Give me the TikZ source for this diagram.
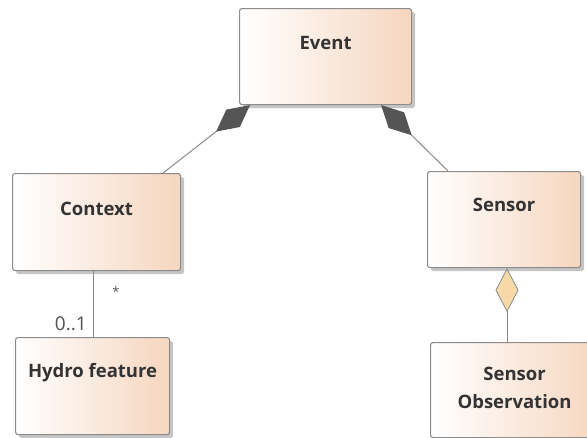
\documentclass[tikz,border=0pt]{standalone}
\usepackage{fontspec}
\setmainfont{Open Sans}
\usetikzlibrary{arrows.meta,shadows,calc}
\definecolor{peach}{HTML}{F6D6BF}
\definecolor{boxline}{HTML}{8C8C8C}
\definecolor{txt}{HTML}{333333}
\definecolor{linec}{HTML}{8A8A8A}
\definecolor{compfill}{HTML}{555555}
\definecolor{aggfill}{HTML}{F7D9A9}
\tikzset{
  classbox/.style={draw=boxline, line width=1.1pt, rounded corners=2.5pt,
    left color=white, right color=peach, anchor=north west, inner sep=0pt,
    drop shadow={shadow xshift=3.5pt, shadow yshift=-3.5pt, fill=black!45, opacity=0.5}},
  classname/.style={font=\fontsize{18.5}{28}\selectfont\bfseries, text=txt, align=center, anchor=north, inner sep=0pt},
  mult/.style={font=\fontsize{19}{22}\selectfont, text=txt!85, inner sep=0pt},
  conn/.style={draw=linec, line width=1pt},
  comp/.style={conn, arrows={-Diamond[length=43pt, width=22pt, fill=compfill, color=compfill]}},
  agg/.style={conn, arrows={-Diamond[length=44pt, width=23pt, fill=aggfill, color=linec, line width=0.8pt]}}
}
\begin{document}
\begin{tikzpicture}[x=1pt,y=-1pt]
\useasboundingbox (0,0) rectangle (587,437);
\begin{scope}
\clip (0,0) rectangle (587,437);
\node[classbox, minimum width=172pt, minimum height=96pt] (ev) at (239,8) {};
\node[classbox, minimum width=168pt, minimum height=97pt] (ctx) at (12,173) {};
\node[classbox, minimum width=153pt, minimum height=96pt] (sen) at (427,171) {};
\node[classbox, minimum width=154pt, minimum height=97pt] (hyd) at (15,337) {};
\node[classbox, minimum width=170pt, minimum height=95pt] (obs) at (430,342) {};
\end{scope}
\node[classname] (evt) at ($(ev.north)+(0,28)$) {Event};
\node[classname] (ctxt) at ($(ctx.north)+(0,29)$) {Context};
\node[classname] (sent) at ($(sen.north)+(0,27)$) {Sensor};
\node[classname] (hydt) at ($(hyd.north)+(0,26)$) {Hydro feature};
\node[classname] (obst) at ($(obs.north)+(-1,25)$) {Sensor\\Observation};
\coordinate (c1) at ($(ctx.north east)+(-18,0)$);
\coordinate (e1) at ($(ev.south west)+(11,0)$);
\coordinate (s1) at ($(sen.north west)+(21,0)$);
\coordinate (e2) at ($(ev.south east)+(-31,0)$);
\draw[comp] (c1) -- (e1);
\draw[comp] (s1) -- (e2);
\coordinate (h1) at (93,0);
\draw[conn] (ctx.south -| h1) -- (hyd.north -| h1);
\node[mult, font=\fontsize{13}{15}\selectfont] (star) at (116,292) {*};
\node[mult, anchor=south east] (zo) at (87,331) {0..1};
\coordinate (o1) at (507,0);
\draw[agg] (obs.north -| o1) -- (sen.south -| o1);
\end{tikzpicture}
\end{document}
